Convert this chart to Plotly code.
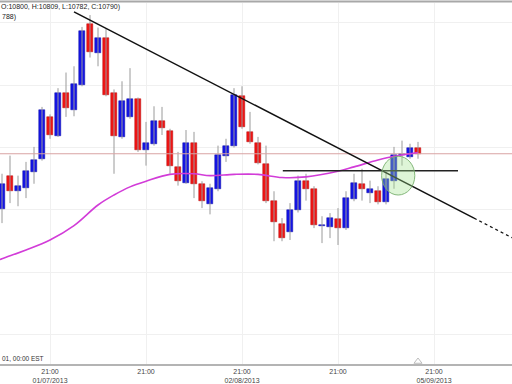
import plotly.graph_objects as go

# ---- data ----
idx = list(range(1, 54))
opens  = [10701,10755,10730,10736,10761,10782,10849,10819,10887,10860,10900,10998,10952,10976,10887,10817,10849,10877,10796,10806,10842,10827,10769,10744,10807,10742,10709,10733,10787,10803,10882,10825,10807,10774,10714,10677,10665,10700,10746,10734,10674,10673,10685,10671,10717,10741,10727,10730,10712,10747,10788,10785,10800]
highs  = [10758,10787,10755,10777,10801,10865,10853,10895,10920,10930,10993,11012,10992,10990,10893,10906,10927,10880,10841,10866,10865,10830,10793,10828,10825,10746,10742,10803,10814,10895,10898,10857,10817,10803,10730,10687,10711,10755,10758,10738,10690,10695,10703,10730,10758,10766,10747,10738,10761,10801,10811,10806,10809]
lows   = [10679,10711,10706,10719,10742,10779,10814,10817,10849,10850,10898,10944,10930,10882,10758,10814,10846,10793,10771,10803,10820,10758,10739,10742,10719,10703,10693,10730,10777,10800,10830,10806,10773,10711,10650,10650,10652,10696,10715,10671,10647,10655,10644,10668,10714,10715,10711,10709,10709,10734,10771,10782,10782]
closes = [10741,10731,10739,10763,10780,10860,10820,10888,10863,10901,10987,10953,10976,10884,10819,10874,10877,10796,10807,10842,10831,10771,10746,10807,10742,10715,10736,10788,10803,10884,10833,10809,10776,10714,10680,10655,10700,10746,10734,10676,10676,10687,10671,10719,10744,10734,10733,10712,10749,10788,10790,10800,10790]

ma_x = [0, 1, 4, 7, 10, 13, 15, 17, 19, 22, 25, 27, 30, 33, 36, 39, 43, 45, 48, 50, 51, 53]
ma_y = [10617,10622,10636,10652,10675,10708,10724,10737,10746,10757,10758,10755,10757,10757,10752,10753,10762,10769,10780,10786,10788,10792]

trend_x = [10, 60]
trend_y = [11017, 10687]
trend_ext_x = [60, 66]
trend_ext_y = [10687, 10647.4]

level_x = [36.1, 58]
level_y = [10763, 10763]

last_price = 10790

tick_vals = [7, 19, 31, 43, 55]
tick_text = ["21:00<br>01/07/2013", "21:00", "21:00<br>02/08/2013", "21:00", "21:00<br>05/09/2013"]

header_text = "O:10800, H:10809, L:10782, C:10790)"
header_text2 = "788)"
tz_text = "01, 00:00 EST"

# ---- figure ----
fig = go.Figure()

BLUE = "#1414e6"
RED = "#f01414"

# wicks
wx, wy = [], []
for i, h, l in zip(idx, highs, lows):
    wx += [i, i, None]
    wy += [l, h, None]
fig.add_trace(go.Scatter(x=wx, y=wy, mode="lines", line=dict(color="#9a9a9a", width=1),
                         hoverinfo="skip", showlegend=False))

# bodies
bases, heights, cols, lcols = [], [], [], []
for o, c in zip(opens, closes):
    lo, hi = min(o, c), max(o, c)
    if hi - lo < 1.5:
        hi = lo + 1.5
    bases.append(lo)
    heights.append(hi - lo)
    cols.append(BLUE if c >= o else RED)
    lcols.append("#0a0aa0" if c >= o else "#b00a0a")
fig.add_trace(go.Bar(x=idx, y=heights, base=bases, width=0.75,
                     marker=dict(color=cols, line=dict(color=lcols, width=0.5)),
                     hoverinfo="skip", showlegend=False))

# current price line
fig.add_trace(go.Scatter(x=[0, 70], y=[last_price, last_price], mode="lines",
                         line=dict(color="#d9a3a3", width=1), hoverinfo="skip", showlegend=False))

# moving average
fig.add_trace(go.Scatter(x=ma_x, y=ma_y, mode="lines", line=dict(color="#d23cd8", width=1.6, shape="spline"),
                         hoverinfo="skip", showlegend=False))

# trend line
fig.add_trace(go.Scatter(x=trend_x, y=trend_y, mode="lines", line=dict(color="#111111", width=1.5),
                         hoverinfo="skip", showlegend=False))
fig.add_trace(go.Scatter(x=trend_ext_x, y=trend_ext_y, mode="lines",
                         line=dict(color="#111111", width=1.2, dash="dot"),
                         hoverinfo="skip", showlegend=False))
# horizontal level
fig.add_trace(go.Scatter(x=level_x, y=level_y, mode="lines", line=dict(color="#222222", width=1.5),
                         hoverinfo="skip", showlegend=False))

# marker triangle at current bar
fig.add_trace(go.Scatter(x=[53], y=[10457.5], mode="markers", cliponaxis=False,
                         marker=dict(symbol="triangle-up-open", size=7, color="#bdbdbd", line=dict(width=1)),
                         hoverinfo="skip", showlegend=False))

# green ellipse
fig.add_shape(type="circle", xref="x", yref="y", x0=48.45, x1=52.6, y0=10724, y1=10786,
              fillcolor="rgba(160,225,140,0.35)", line=dict(color="rgba(120,175,110,0.9)", width=1),
              layer="above")

# top border
fig.add_shape(type="line", xref="paper", yref="paper", x0=0, x1=1, y0=1.004, y1=1.004,
              line=dict(color="#a8a8a8", width=2))

fig.add_annotation(text=header_text, xref="paper", yref="paper", x=-1/512, y=1 - 4/364,
                   xanchor="left", yanchor="middle", showarrow=False,
                   font=dict(family="Liberation Sans", size=7, color="#222222"))
fig.add_annotation(text=header_text2, xref="paper", yref="paper", x=0, y=1 - 14/364,
                   xanchor="left", yanchor="middle", showarrow=False,
                   font=dict(family="Liberation Sans", size=7, color="#222222"))
fig.add_annotation(text=tz_text, xref="paper", yref="paper", x=0, y=6/364,
                   xanchor="left", yanchor="middle", showarrow=False,
                   font=dict(family="Liberation Sans", size=6.5, color="#333333"))

fig.update_layout(
    width=512, height=384,
    margin=dict(l=0, r=0, t=3, b=17),
    paper_bgcolor="white", plot_bgcolor="white",
    barmode="overlay", bargap=0,
    showlegend=False,
    hovermode=False,
    xaxis=dict(range=[0.75, 64.75], tickmode="array", tickvals=tick_vals, ticktext=tick_text,
               showgrid=True, gridcolor="#f0f0f0", gridwidth=1, zeroline=False,
               showline=True, linecolor="#b4b4b4", linewidth=1.5, ticks="",
               tickfont=dict(family="Liberation Sans", size=7, color="#444444")),
    yaxis=dict(range=[10453.5, 11031.3], tickmode="linear", tick0=10500, dtick=100,
               showgrid=True, gridcolor="#f0f0f0", gridwidth=1, zeroline=False,
               showticklabels=False, showline=False, ticks=""),
)

fig.write_html("out.html", config={"displayModeBar": False},
               post_script="document.body.style.margin='0';document.body.style.padding='0';document.body.style.overflow='hidden';")
